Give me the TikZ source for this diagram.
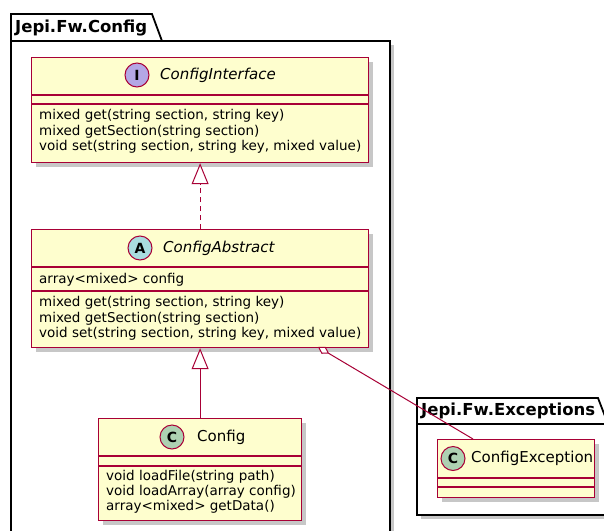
\documentclass[tikz,border=0pt]{standalone}
\usepackage{fontspec}
\setmainfont{DejaVu Sans}
\usetikzlibrary{arrows.meta,shadows,calc}

\definecolor{umlfill}{HTML}{FEFECE}
\definecolor{umlborder}{HTML}{A80036}
\definecolor{ifacecirc}{HTML}{B4A7E5}
\definecolor{abscirc}{HTML}{A9DCDF}
\definecolor{classcirc}{HTML}{ADD1B2}

\begin{document}
\begin{tikzpicture}[x=1pt,y=-1pt,
  umlshadow/.style={drop shadow={shadow xshift=4pt,shadow yshift=-4pt,fill=black,opacity=0.22}},
  classbox/.style={draw=umlborder,fill=umlfill,line width=1.2pt,rectangle,
    anchor=north west,inner sep=0pt,umlshadow},
  pkgbody/.style={draw=black,fill=white,line width=1.8pt,umlshadow},
  pkgtab/.style={draw=black,fill=white,line width=1.8pt},
  pkgtitle/.style={font=\bfseries\fontsize{16.5pt}{19pt}\selectfont,anchor=west,inner sep=0pt},
  divider/.style={draw=umlborder,line width=1.2pt},
  spot/.style={circle,draw=umlborder,line width=1pt,minimum size=24pt,inner sep=0pt,
    font=\bfseries\fontsize{14pt}{16pt}\selectfont},
  cname/.style={anchor=west,inner sep=0pt,font=\fontsize{15pt}{18pt}\selectfont},
  member/.style={anchor=west,inner sep=0pt,font=\fontsize{13.5pt}{16pt}\selectfont},
  link/.style={draw=umlborder,line width=1pt}
]
\useasboundingbox (0,0) rectangle (604,530);
\clip (0,0) rectangle (604,530);

% package Jepi.Fw.Config
\path[pkgbody] (11,41) rectangle (390,560);
\path[pkgtab] (11,41) -- (11,14) -- (152,14) -- (162,41) -- cycle;
\node[pkgtitle] (pkgcfg) at (15,28) {Jepi.Fw.Config};

% package Jepi.Fw.Exceptions
\path[pkgbody] (417,424) rectangle (660,515);
\path[pkgtab] (417,424) -- (417,398) -- (598,398) -- (608,424) -- cycle;
\node[pkgtitle] (pkgexc) at (421,411) {Jepi.Fw.Exceptions};

% ConfigInterface
\node[classbox,minimum width=337pt,minimum height=105pt] (iface) at (31,57) {};
\draw[divider] (31,95) -- (368,95);
\draw[divider] (31,104) -- (368,104);
\node[spot,fill=ifacecirc] (ifacespot) at (137,75) {I};
\node[cname,font=\itshape\fontsize{15pt}{18pt}\selectfont] (ifacename) at (160,75) {ConfigInterface};
\node[member] (im1) at (39,116) {mixed get(string section, string key)};
\node[member] (im2) at (39,131.5) {mixed getSection(string section)};
\node[member] (im3) at (39,147) {void set(string section, string key, mixed value)};

% ConfigAbstract
\node[classbox,minimum width=337pt,minimum height=118pt] (abs) at (31,229) {};
\draw[divider] (31,267) -- (368,267);
\draw[divider] (31,291) -- (368,291);
\node[spot,fill=abscirc] (absspot) at (140,248) {A};
\node[cname,font=\itshape\fontsize{15pt}{18pt}\selectfont] (absname) at (163,248) {ConfigAbstract};
\node[member] (aa1) at (39,280) {array<mixed> config};
\node[member] (am1) at (39,303) {mixed get(string section, string key)};
\node[member] (am2) at (39,318.5) {mixed getSection(string section)};
\node[member] (am3) at (39,334) {void set(string section, string key, mixed value)};

% Config
\node[classbox,minimum width=203pt,minimum height=102pt] (cfg) at (98,418) {};
\draw[divider] (98,456) -- (301,456);
\draw[divider] (98,466) -- (301,466);
\node[spot,fill=classcirc] (cfgspot) at (172,437) {C};
\node[cname] (cfgname) at (197,437) {Config};
\node[member] (cm1) at (106,477) {void loadFile(string path)};
\node[member] (cm2) at (106,492) {void loadArray(array config)};
\node[member] (cm3) at (106,507) {array<mixed> getData()};

% ConfigException
\node[classbox,minimum width=157pt,minimum height=58pt] (exc) at (437,439) {};
\draw[divider] (437,478) -- (594,478);
\draw[divider] (437,487) -- (594,487);
\node[spot,fill=classcirc] (excspot) at (453,458.5) {C};
\node[cname] (excname) at (471,458.5) {ConfigException};

% relations
\draw[link,dash pattern=on 5pt off 4pt,-{Triangle[fill=white,width=17pt,length=21pt]}] (abs.north) -- (iface.south);
\draw[link,-{Triangle[fill=white,width=17pt,length=21pt]}] (cfg.north) -- (abs.south);
\coordinate (aggfrom) at (318,347);
\coordinate (aggto) at (473,439);
\draw[link,{Diamond[fill=white,width=8pt,length=13pt]}-] (aggfrom) -- (aggto);
\end{tikzpicture}
\end{document}
